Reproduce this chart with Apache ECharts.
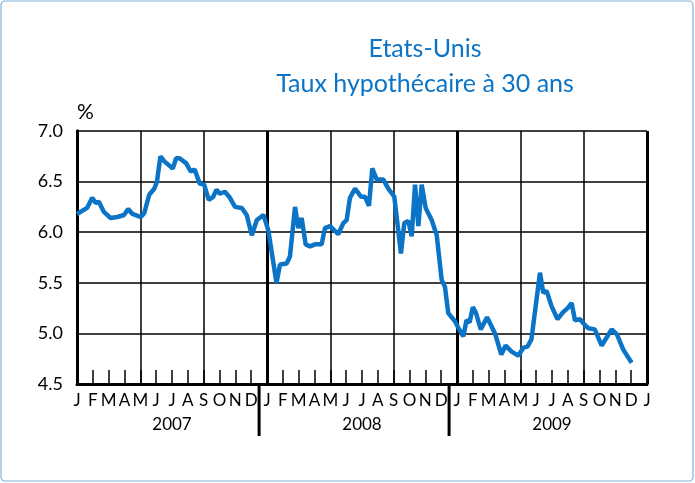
<!DOCTYPE html>
<html>
<head>
<meta charset="utf-8">
<script src="https://cdn.jsdelivr.net/npm/echarts@6/dist/echarts.min.js"></script>
<style>
html, body { margin: 0; padding: 0; background: #fff; }
#chart { width: 695px; height: 483px; }
</style>
</head>
<body>
<div id="chart"></div>
<script>
// mois depuis janvier 2007 (0 = 1er janvier 2007)
var months = [0, 0.64, 0.96, 1.17, 1.38, 1.7, 2.12, 2.55, 2.97, 3.23, 3.5, 4.03, 4.25, 4.56, 4.88, 5.05, 5.27, 5.52, 6.05, 6.26, 6.48, 6.9, 7.18, 7.43, 7.75, 8.03, 8.32, 8.6, 8.81, 9.02, 9.34, 9.66, 9.98, 10.4, 10.72, 11.04, 11.36, 11.78,
  12.08, 12.6, 12.82, 13.24, 13.45, 13.77, 13.98, 14.19, 14.44, 14.72, 15.03, 15.45, 15.66, 15.98, 16.5, 16.82, 17.03, 17.24, 17.56, 17.94, 18.19, 18.44, 18.65, 18.93, 19.35, 19.66, 20.04, 20.46, 20.67, 20.93, 21.14, 21.35, 21.56, 21.77, 22.02, 22.4, 22.72, 23.03, 23.24, 23.45, 23.87,
  24.1, 24.4, 24.6, 24.8, 25.0, 25.2, 25.5, 25.9, 26.4, 26.8, 27.07, 27.45, 27.87, 28.2, 28.45, 28.7, 29.24, 29.45, 29.66, 29.97, 30.35, 30.7, 30.99, 31.24, 31.45, 31.77, 31.98, 32.3, 32.7, 33.14, 33.77, 34.1, 34.5, 35.03];
var rates = [6.18, 6.24, 6.34, 6.29, 6.30, 6.20, 6.14, 6.15, 6.17, 6.23, 6.18, 6.15, 6.19, 6.37, 6.43, 6.50, 6.75, 6.70, 6.63, 6.73, 6.73, 6.68, 6.60, 6.62, 6.48, 6.47, 6.32, 6.35, 6.42, 6.38, 6.40, 6.34, 6.25, 6.24, 6.17, 5.97, 6.12, 6.17,
  6.02, 5.50, 5.68, 5.69, 5.76, 6.25, 6.04, 6.14, 5.88, 5.86, 5.88, 5.88, 6.04, 6.06, 5.98, 6.09, 6.12, 6.34, 6.43, 6.35, 6.35, 6.26, 6.63, 6.52, 6.52, 6.43, 6.35, 5.79, 6.09, 6.11, 5.96, 6.47, 6.06, 6.47, 6.24, 6.12, 5.97, 5.53, 5.46, 5.20, 5.12,
  5.05, 4.97, 5.13, 5.11, 5.26, 5.20, 5.04, 5.16, 5.00, 4.79, 4.88, 4.82, 4.78, 4.86, 4.87, 4.94, 5.60, 5.40, 5.42, 5.27, 5.14, 5.21, 5.25, 5.30, 5.13, 5.14, 5.10, 5.05, 5.04, 4.88, 5.04, 4.99, 4.84, 4.71];
var monthLetters = ['J', 'F', 'M', 'A', 'M', 'J', 'J', 'A', 'S', 'O', 'N', 'D'];
var years = ['2007', '2008', '2009'];

var blue = '#0b74c6';
var chart = echarts.init(document.getElementById('chart'));
var font = 'Lato, "Open Sans", sans-serif';

var option = {
  animation: false,
  title: {
    text: 'Etats-Unis\nTaux hypothécaire à 30 ans',
    left: 420, top: 26, textAlign: 'center',
    textStyle: { color: blue, fontSize: 25, fontWeight: 'normal', fontFamily: font, lineHeight: 35 }
  },
  grid: { left: 77, right: 48, top: 131, bottom: 99 },
  xAxis: [{
    type: 'value', min: 0, max: 36, interval: 1,
    axisLine: { show: true, lineStyle: { color: '#000', width: 3 } },
    axisTick: { show: true, inside: true, length: 14, lineStyle: { color: '#000', width: 1.5 } },
    axisLabel: {
      color: '#000', fontSize: 17, fontFamily: font, margin: 8,
      formatter: function (v) { return monthLetters[v % 12]; }
    },
    splitLine: { show: false }
  }, {
    type: 'value', min: 0, max: 36, interval: 4,
    axisLine: { show: false }, axisTick: { show: false }, axisLabel: { show: false },
    splitLine: { show: true, lineStyle: { color: '#000', width: 1.5 } }
  }, {
    type: 'value', min: 0, max: 36, interval: 12,
    axisLine: { show: false }, axisTick: { show: false }, axisLabel: { show: false },
    splitLine: { show: true, lineStyle: { color: '#000', width: 3 } }
  }],
  yAxis: [{
    type: 'value', min: 4.5, max: 7, interval: 0.5,
    name: '%', nameLocation: 'end', nameGap: 8,
    nameTextStyle: { color: '#000', fontSize: 21, fontFamily: font, align: 'left' },
    axisLine: { show: true, lineStyle: { color: '#000', width: 3 } },
    axisTick: { show: false },
    axisLabel: { color: '#000', fontSize: 18, fontFamily: font, margin: 14, formatter: function (v) { return v.toFixed(1); } },
    splitLine: { show: true, lineStyle: { color: '#000', width: 1.5 } }
  }, {
    type: 'value', min: 4.5, max: 7, interval: 0.5, position: 'right',
    axisLine: { show: true, lineStyle: { color: '#000', width: 3 } },
    axisTick: { show: false }, axisLabel: { show: false }, splitLine: { show: false }
  }],
  series: [{
    type: 'line', xAxisIndex: 0, yAxisIndex: 0,
    data: months.map(function (m, i) { return [m, rates[i]]; }),
    showSymbol: false,
    lineStyle: { color: blue, width: 4.5 },
    z: 5
  }]
};
chart.setOption(option);

var yb = chart.convertToPixel({ yAxisIndex: 0 }, 4.5);
var graphics = [{
  type: 'rect', shape: { x: 1, y: 1, width: 692, height: 480, r: 4 },
  style: { fill: 'none', stroke: '#7fb2dd', lineWidth: 1.2 }
}];
[11.5, 23.5].forEach(function (m) {
  var x = chart.convertToPixel({ xAxisIndex: 0 }, m);
  graphics.push({ type: 'line', shape: { x1: x, y1: yb, x2: x, y2: yb + 52 }, style: { stroke: '#000', lineWidth: 3 } });
});
years.forEach(function (y, i) {
  var x = chart.convertToPixel({ xAxisIndex: 0 }, i * 12 + 6);
  graphics.push({ type: 'text', x: x, y: yb + 32, style: { text: y, fill: '#000', font: '17px ' + font, align: 'center' } });
});
chart.setOption({ graphic: graphics });
window.onresize = chart.resize;
</script>
</body>
</html>
